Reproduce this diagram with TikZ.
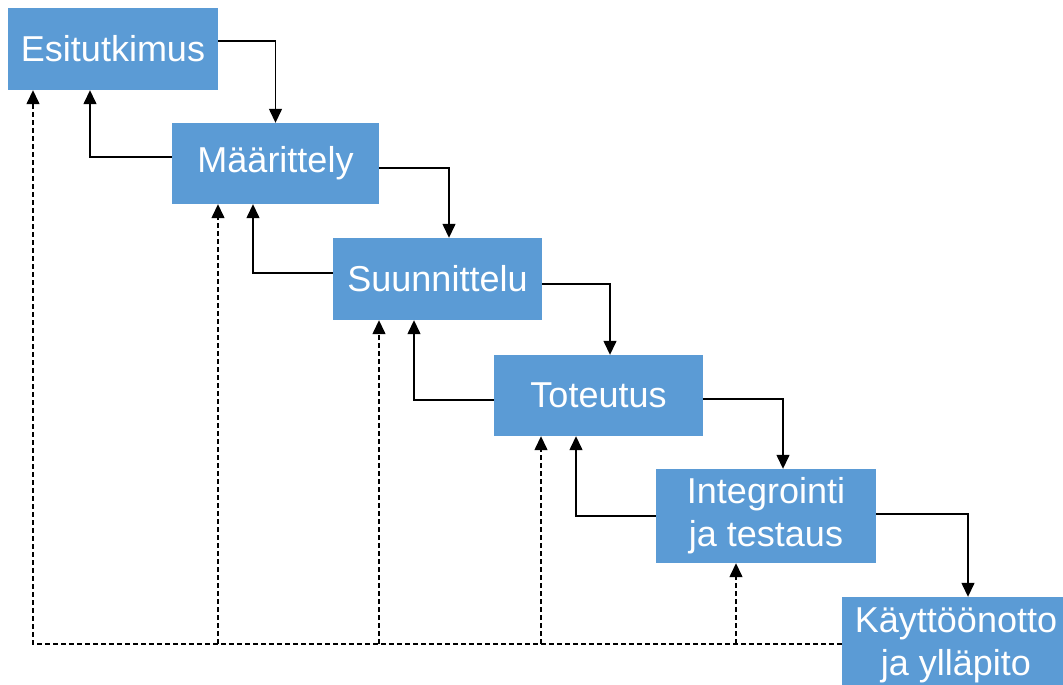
\documentclass[tikz,border=0pt]{standalone}
\usepackage{fontspec}
\setmainfont{Liberation Sans}
\usetikzlibrary{arrows.meta,calc}
\definecolor{boxblue}{HTML}{5B9BD5}
\tikzset{
  phase/.style={fill=boxblue, draw=none, text=white, align=center, inner sep=0pt,
    font=\fontsize{36}{43}\selectfont},
  arr/.style={line width=1.4pt, -{Triangle[width=13pt,length=14pt]}},
  dsh/.style={line width=1.4pt, dash pattern=on 5pt off 3pt},
}
\begin{document}
\begin{tikzpicture}[x=1pt,y=1pt]
\clip (0,0) rectangle (1063,-685);
\fill[white] (0,0) rectangle (1063,-685);
\node[phase, minimum width=210pt, minimum height=82pt] (e1) at (113,-49) {Esitutkimus};
\node[phase, minimum width=207pt, minimum height=81pt] (e2) at (275.5,-163.5) {Määrittely};
\node[phase, minimum width=209pt, minimum height=82pt] (e3) at (437.5,-279) {Suunnittelu};
\node[phase, minimum width=209pt, minimum height=81pt] (e4) at (598.5,-395.5) {Toteutus};
\node[phase, minimum width=220pt, minimum height=94pt] (e5) at (766,-516) {Integrointi\\ja testaus};
\node[phase, minimum width=228pt, minimum height=96pt] (e6) at (956,-645) {Käyttöönotto\\ja ylläpito};
% forward
\draw[arr] ([yshift=8pt]e1.east) -| (e2.north);
\draw[arr] ([yshift=-4.5pt]e2.east) -| ([xshift=11.5pt]e3.north);
\draw[arr] ([yshift=-5pt]e3.east) -| ([xshift=11.5pt]e4.north);
\draw[arr] ([yshift=-3.5pt]e4.east) -| ([xshift=17pt]e5.north);
\draw[arr] ([yshift=2pt]e5.east) -| ([xshift=12pt]e6.north);
% feedback
\draw[arr] ([yshift=6.5pt]e2.west) -| ([xshift=-23pt]e1.south);
\draw[arr] ([yshift=6pt]e3.west) -| ([xshift=-22.5pt]e2.south);
\draw[arr] ([yshift=-4.5pt]e4.west) -| ([xshift=-23.5pt]e3.south);
\draw[arr] ([yshift=0pt]e5.west) -| ([xshift=-22.5pt]e4.south);
% dashed returns
\coordinate (base) at ([yshift=1pt]e6.west);
\draw[dsh,arr] (base) -| ([xshift=-80pt]e1.south);
\draw[dsh,arr] ([xshift=-57.5pt]e2.south |- base) -- ([xshift=-57.5pt]e2.south);
\draw[dsh,arr] ([xshift=-58.5pt]e3.south |- base) -- ([xshift=-58.5pt]e3.south);
\draw[dsh,arr] ([xshift=-57.5pt]e4.south |- base) -- ([xshift=-57.5pt]e4.south);
\draw[dsh,arr] ([xshift=-30pt]e5.south |- base) -- ([xshift=-30pt]e5.south);
\end{tikzpicture}
\end{document}
